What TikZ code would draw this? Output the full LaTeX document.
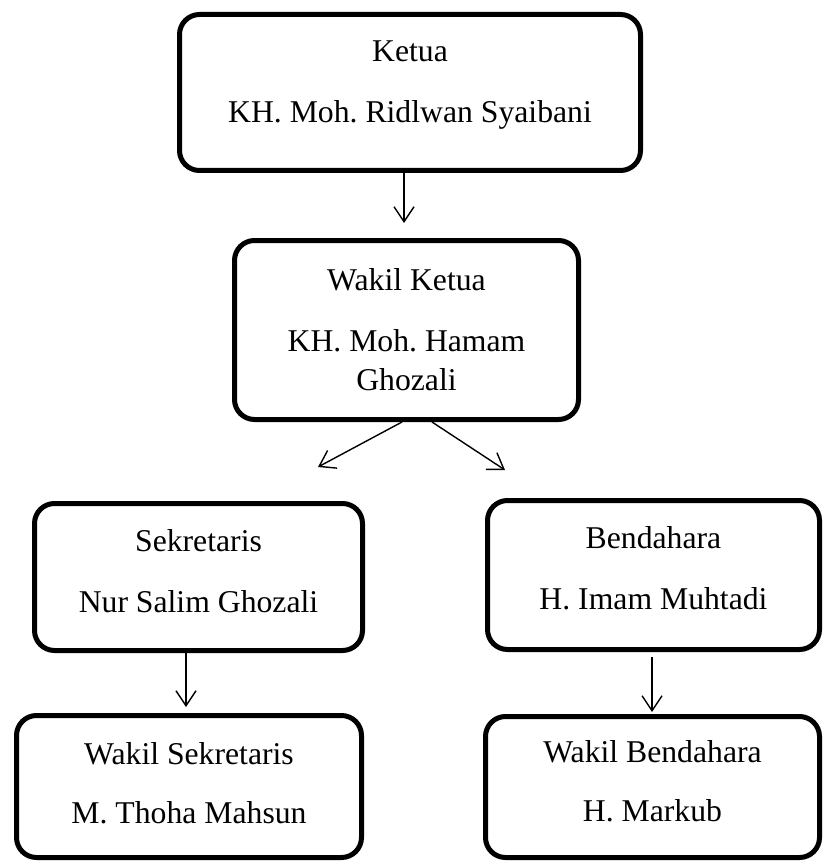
\documentclass[tikz,border=0pt]{standalone}
\usepackage{fontspec}
\setmainfont{Liberation Serif}
\usetikzlibrary{arrows.meta}
\frenchspacing

\begin{document}
\begin{tikzpicture}[
    x=1pt, y=-1pt,
    unit/.style={rectangle, draw, line width=5pt, rounded corners=20pt, align=center,
                 inner sep=0pt, font=\fontsize{31.7}{39}\selectfont},
    link/.style={draw, line width=1.4pt, -{Straight Barb[length=15pt, width=20pt, line width=1.4pt]}}
]
  \useasboundingbox (0,0) rectangle (824,861);
  % Units of the board, top to bottom.
  \node[unit, minimum width=461pt, minimum height=156pt, text depth=21pt] (ketua) at (410,92.5)
    {Ketua\\[22pt]KH. Moh. Ridlwan Syaibani};
  \node[unit, minimum width=344pt, minimum height=179pt] (wakil) at (406.5,330)
    {Wakil Ketua\\[22pt]KH. Moh. Hamam\\Ghozali};
  \node[unit, minimum width=328pt, minimum height=147pt, text depth=12pt] (sekretaris) at (198.5,577)
    {Sekretaris\\[22pt]Nur Salim Ghozali};
  \node[unit, minimum width=332pt, minimum height=149pt, text depth=14pt] (bendahara) at (653.5,575)
    {Bendahara\\[22pt]H. Imam Muhtadi};
  \node[unit, minimum width=345pt, minimum height=142pt, text depth=8pt] (wakilsek) at (189,786.5)
    {Wakil Sekretaris\\[20pt]M. Thoha Mahsun};
  \node[unit, minimum width=334pt, minimum height=141pt, text depth=12pt] (wakilbend) at (652.5,787)
    {Wakil Bendahara\\[20pt]H. Markub};
  % Free ends of the two split arrows.
  \coordinate (lefttip) at (318,467);
  \coordinate (righttip) at (505,470);
  \draw[link, shorten >=15pt] ([xshift=-6pt]ketua.south) -- ([xshift=-6pt]ketua.south |- wakil.north);
  \draw[link] ([xshift=-4.5pt]wakil.south) -- (lefttip);
  \draw[link] ([xshift=25.5pt]wakil.south) -- (righttip);
  \draw[link, shorten >=6pt] ([xshift=-12.5pt]sekretaris.south) -- ([xshift=-12.5pt]sekretaris.south |- wakilsek.north);
  \draw[link, shorten <=5pt, shorten >=2pt] ([xshift=-1.5pt]bendahara.south) -- ([xshift=-1.5pt]bendahara.south |- wakilbend.north);
\end{tikzpicture}
\end{document}
